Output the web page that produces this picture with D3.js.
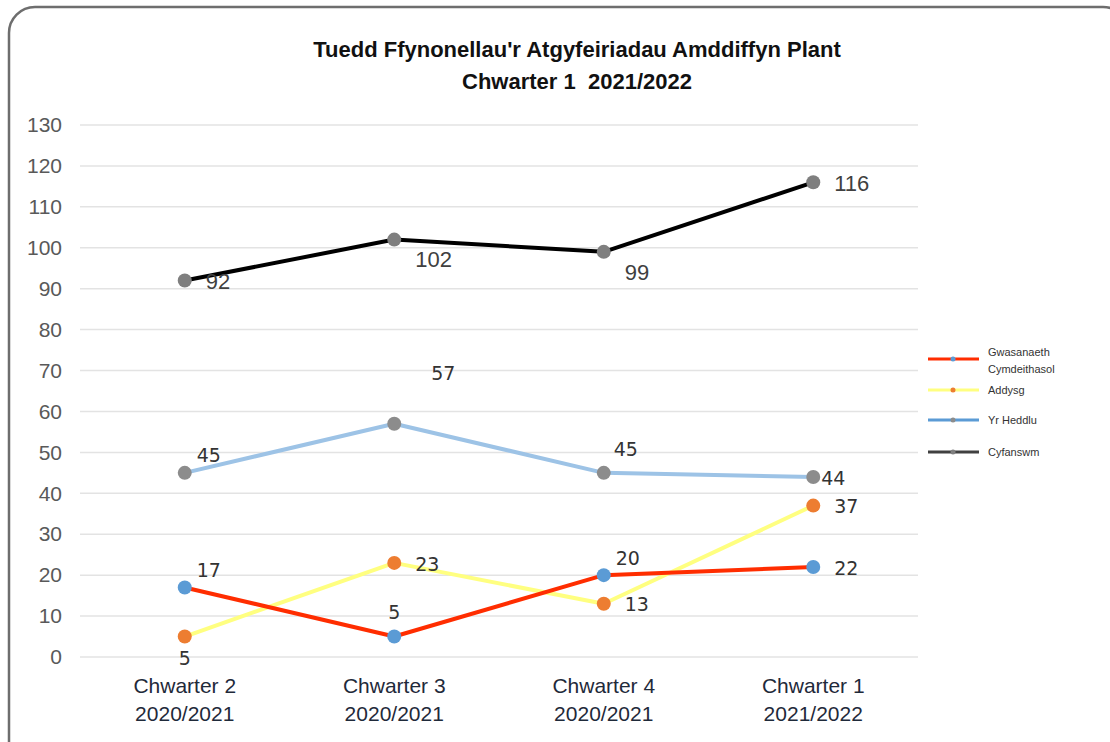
<!DOCTYPE html>
<html>
<head>
<meta charset="utf-8">
<script src="https://cdn.jsdelivr.net/npm/d3@7"></script>
<style>
  body { margin: 0; background: #fff; }
  svg { display: block; }
  .title { white-space: pre; }
</style>
</head>
<body>
<svg id="chart" width="1110" height="742"></svg>
<script>
const categories = [["Chwarter 2", "2020/2021"], ["Chwarter 3", "2020/2021"], ["Chwarter 4", "2020/2021"], ["Chwarter 1", "2021/2022"]];
const yTicks = [0, 10, 20, 30, 40, 50, 60, 70, 80, 90, 100, 110, 120, 130];
const titleLines = ["Tuedd Ffynonellau'r Atgyfeiriadau Amddiffyn Plant", "Chwarter 1  2021/2022"];

const seriesNames = ["Gwasanaeth Cymdeithasol", "Addysg", "Yr Heddlu", "Cyfanswm"];
const gwasanaeth = [17, 5, 20, 22];
const addysg = [5, 23, 13, 37];
const heddlu = [45, 57, 45, 44];
const cyfanswm = [92, 102, 99, 116];

// where each value label sits relative to its point
const gwasanaethPos = ["upright", "above", "upright", "right"];
const addysgPos = ["below", "right", "right", "right"];
const heddluPos = ["upright", "farup", "above2", "right2"];
const cyfanswmPos = ["right", "downright", "downright", "right"];

const series = [
    { name: seriesNames[0], values: gwasanaeth, pos: gwasanaethPos, line: "#ff2d00", marker: "#5b9bd5", legendLine: "#ff2d00", font: "DejaVu Sans", labelColor: "#333" },
    { name: seriesNames[1], values: addysg, pos: addysgPos, line: "#ffff80", marker: "#ed7d31", legendLine: "#ffff80", font: "DejaVu Sans", labelColor: "#333" },
    { name: seriesNames[2], values: heddlu, pos: heddluPos, line: "#9dc3e6", marker: "#8c8c8c", legendLine: "#5b9bd5", font: "DejaVu Sans", labelColor: "#333" },
    { name: seriesNames[3], values: cyfanswm, pos: cyfanswmPos, line: "#000000", marker: "#7f7f7f", legendLine: "#404040", font: "Liberation Sans Narrow", labelColor: "#404040" }
];

const offsets = {
    right: [21, 1, "start"],
    right2: [8, 1, "start"],
    upright: [12, -17, "start"],
    above: [0, -24, "middle"],
    above2: [10, -23, "start"],
    below: [0, 22, "middle"],
    downright: [21, 20, "start"],
    farup: [37, -50, "start"]
};

const svg = d3.select("#chart");
const narrow = "'Liberation Sans Narrow', 'Arial Narrow', sans-serif";

// outer frame
svg.append("rect")
    .attr("x", 9).attr("y", 7)
    .attr("width", 1120).attr("height", 760)
    .attr("rx", 26)
    .attr("fill", "#fff")
    .attr("stroke", "#6e6e6e")
    .attr("stroke-width", 2.5);

const x = d3.scaleBand().domain(d3.range(categories.length)).range([80, 918]);
const y = d3.scaleLinear().domain([0, 130]).range([657, 125]);
const cx = i => x(i) + x.bandwidth() / 2;

// title
svg.append("g").selectAll("text")
    .data(titleLines)
    .join("text")
    .attr("class", "title")
    .attr("x", 577)
    .attr("y", (d, i) => 57 + i * 32)
    .attr("text-anchor", "middle")
    .attr("font-family", narrow)
    .attr("font-weight", "bold")
    .attr("font-size", 22)
    .attr("fill", "#111")
    .text(d => d);

// grid
svg.append("g").selectAll("line")
    .data(yTicks)
    .join("line")
    .attr("x1", 80).attr("x2", 918)
    .attr("y1", d => y(d)).attr("y2", d => y(d))
    .attr("stroke", "#e3e3e3")
    .attr("stroke-width", 1.5);

// y axis labels
const yAxis = svg.append("g")
    .attr("transform", "translate(62,0)")
    .call(d3.axisLeft(y).tickValues(yTicks).tickSize(0).tickPadding(0));
yAxis.select(".domain").remove();
yAxis.selectAll("text")
    .attr("font-family", narrow)
    .attr("font-size", 21)
    .attr("fill", "#595959");

// x axis labels
const xAxis = svg.append("g").attr("transform", "translate(0,676)");
xAxis.selectAll("text")
    .data(categories)
    .join("text")
    .attr("x", (d, i) => cx(i))
    .attr("y", 17)
    .attr("text-anchor", "middle")
    .attr("font-family", narrow)
    .attr("font-size", 21)
    .attr("fill", "#1f2a3a")
    .each(function (d) {
        d3.select(this).selectAll("tspan")
            .data(d)
            .join("tspan")
            .attr("x", (t, j) => d3.select(this).attr("x"))
            .attr("dy", (t, j) => j === 0 ? 0 : 28)
            .text(t => t);
    });

const line = d3.line().x((d, i) => cx(i)).y(d => y(d));

// lines (total first so coloured lines sit on top where they cross)
series.slice().reverse().forEach(s => {
    svg.append("path")
        .datum(s.values)
        .attr("d", line)
        .attr("fill", "none")
        .attr("stroke", s.line)
        .attr("stroke-width", 4)
        .attr("stroke-linejoin", "round");
});

series.forEach(s => {
    svg.append("g").selectAll("circle")
        .data(s.values)
        .join("circle")
        .attr("cx", (d, i) => cx(i))
        .attr("cy", d => y(d))
        .attr("r", 7)
        .attr("fill", s.marker);

    svg.append("g").selectAll("text")
        .data(s.values)
        .join("text")
        .attr("x", (d, i) => cx(i) + offsets[s.pos[i]][0])
        .attr("y", (d, i) => y(d) + offsets[s.pos[i]][1])
        .attr("dy", "0.35em")
        .attr("text-anchor", (d, i) => offsets[s.pos[i]][2])
        .attr("font-family", s.font === "DejaVu Sans" ? "'DejaVu Sans', sans-serif" : narrow)
        .attr("font-size", s.font === "DejaVu Sans" ? 19 : 22)
        .attr("fill", s.labelColor)
        .text(d => d);
});

// legend
const legendRows = [
    { s: series[0], y: 359, lines: ["Gwasanaeth", "Cymdeithasol"] },
    { s: series[1], y: 390, lines: ["Addysg"] },
    { s: series[2], y: 420, lines: ["Yr Heddlu"] },
    { s: series[3], y: 452, lines: ["Cyfanswm"] }
];
const legend = svg.append("g");
legendRows.forEach(r => {
    legend.append("line")
        .attr("x1", 928).attr("x2", 979)
        .attr("y1", r.y).attr("y2", r.y)
        .attr("stroke", r.s.legendLine)
        .attr("stroke-width", 3);
    legend.append("circle")
        .attr("cx", 953).attr("cy", r.y).attr("r", 2.5)
        .attr("fill", r.s.marker);
    legend.append("g").selectAll("text")
        .data(r.lines)
        .join("text")
        .attr("x", 988)
        .attr("y", (d, i) => r.y + (r.lines.length > 1 ? -7 + i * 17 : 0))
        .attr("dy", "0.35em")
        .attr("font-family", narrow)
        .attr("font-size", 11)
        .attr("fill", "#333")
        .text(d => d);
});
</script>
</body>
</html>
